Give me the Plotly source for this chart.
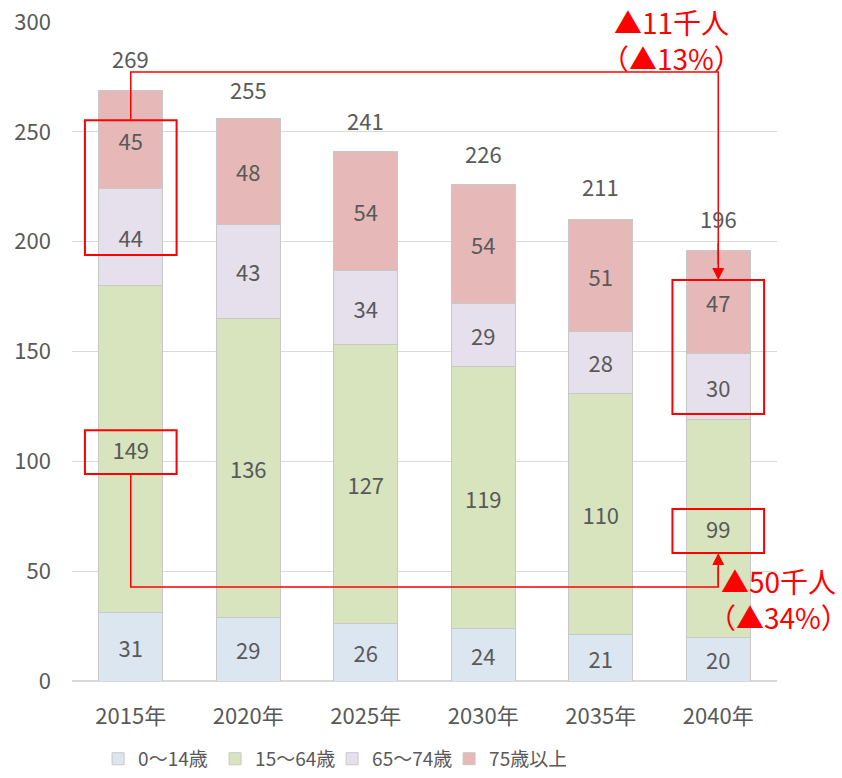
import plotly.graph_objects as go

years = ["2015年", "2020年", "2025年", "2030年", "2035年", "2040年"]
age_0_14 = [31, 29, 26, 24, 21, 20]
age_15_64 = [149, 136, 127, 119, 110, 99]
age_65_74 = [44, 43, 34, 29, 28, 30]
age_75_plus = [45, 48, 54, 54, 51, 47]
totals = [269, 255, 241, 226, 211, 196]
y_ticks = [0, 50, 100, 150, 200, 250, 300]

series = [
    ("0～14歳", age_0_14, "#dce6f1"),
    ("15～64歳", age_15_64, "#d7e4bd"),
    ("65～74歳", age_65_74, "#e6e0ec"),
    ("75歳以上", age_75_plus, "#e6b9b8"),
]

FONT = "Noto Sans CJK JP, Meiryo, sans-serif"
GRAY = "#595959"
RED = "#ff0000"
FS = 22
xs = list(range(len(years)))

fig = go.Figure()
for name, vals, col in series:
    fig.add_trace(go.Bar(
        x=xs, y=vals, name=name, width=0.545,
        marker=dict(color=col, line=dict(color="#c8c8c8", width=1)),
        text=[str(v) for v in vals], textposition="inside",
        insidetextanchor="middle", constraintext="none",
        textfont=dict(size=FS, color=GRAY, family=FONT),
        hoverinfo="skip",
    ))

for i, t in enumerate(totals):
    fig.add_annotation(x=xs[i], y=t, text=str(t), showarrow=False,
                       yshift=32, font=dict(size=FS, color=GRAY, family=FONT))

# red highlight boxes around labels
def box(xc, y0, y1):
    fig.add_shape(type="rect", xref="x", yref="y", x0=xc - 0.39, x1=xc + 0.39,
                  y0=y0, y1=y1, line=dict(color=RED, width=2), fillcolor="rgba(0,0,0,0)")

box(0, 193.9, 255.3)
box(0, 94.2, 114.2)
box(5, 121.5, 182.5)
box(5, 58.3, 78.3)

# connectors
fig.add_shape(type="path", xref="x", yref="y",
              path="M 0,255.3 L 0,277.2 L 5,277.2 L 5,190",
              line=dict(color=RED, width=1.5))
fig.add_annotation(x=5, y=182.5, ax=5, ay=200, xref="x", yref="y", axref="x", ayref="y",
                   showarrow=True, arrowhead=2, arrowsize=1.6, arrowwidth=1.5,
                   arrowcolor=RED, text="")
fig.add_shape(type="path", xref="x", yref="y",
              path="M 0,94.2 L 0,42.8 L 5,42.8 L 5,52",
              line=dict(color=RED, width=1.5))
fig.add_annotation(x=5, y=58.3, ax=5, ay=42.8, xref="x", yref="y", axref="x", ayref="y",
                   showarrow=True, arrowhead=2, arrowsize=1.6, arrowwidth=1.5,
                   arrowcolor=RED, text="")

fig.add_annotation(x=4.60, y=292.0, xref="x", yref="y", text="▲11千人<br>（▲13%）",
                   showarrow=False, xanchor="center", yanchor="middle",
                   font=dict(size=28, color=RED, family=FONT), align="center")
fig.add_annotation(x=1.002, y=37.3, xref="paper", yref="y", text="▲50千人<br>（▲34%）",
                   showarrow=False, xanchor="center", yanchor="middle",
                   font=dict(size=28, color=RED, family=FONT), align="center")

fig.update_layout(
    barmode="stack",
    width=842, height=778,
    margin=dict(l=72, r=65, t=22, b=97, autoexpand=False),
    paper_bgcolor="white", plot_bgcolor="white",
    font=dict(family=FONT, color=GRAY, size=FS),
    showlegend=True,
    legend=dict(orientation="h", x=0.037, xanchor="left", y=-0.147, yanchor="bottom",
                font=dict(size=19, color=GRAY, family=FONT), traceorder="normal",
                itemwidth=30, entrywidth=72, entrywidthmode="pixels"),
    xaxis=dict(range=[-0.5, 5.5], tickvals=xs, ticktext=years, showgrid=False,
               zeroline=False, showline=False, ticks="", ticklabelstandoff=20,
               tickfont=dict(size=FS, color=GRAY)),
    yaxis=dict(range=[0, 300], tickvals=y_ticks, showgrid=True, gridcolor="#d9d9d9",
               zeroline=True, zerolinecolor="#d9d9d9", showline=False, ticks="",
               ticklabelstandoff=20, tickfont=dict(size=FS, color=GRAY)),
)

fig.write_html("out.html", config={"displayModeBar": False},
               post_script="document.body.style.margin='0';")
